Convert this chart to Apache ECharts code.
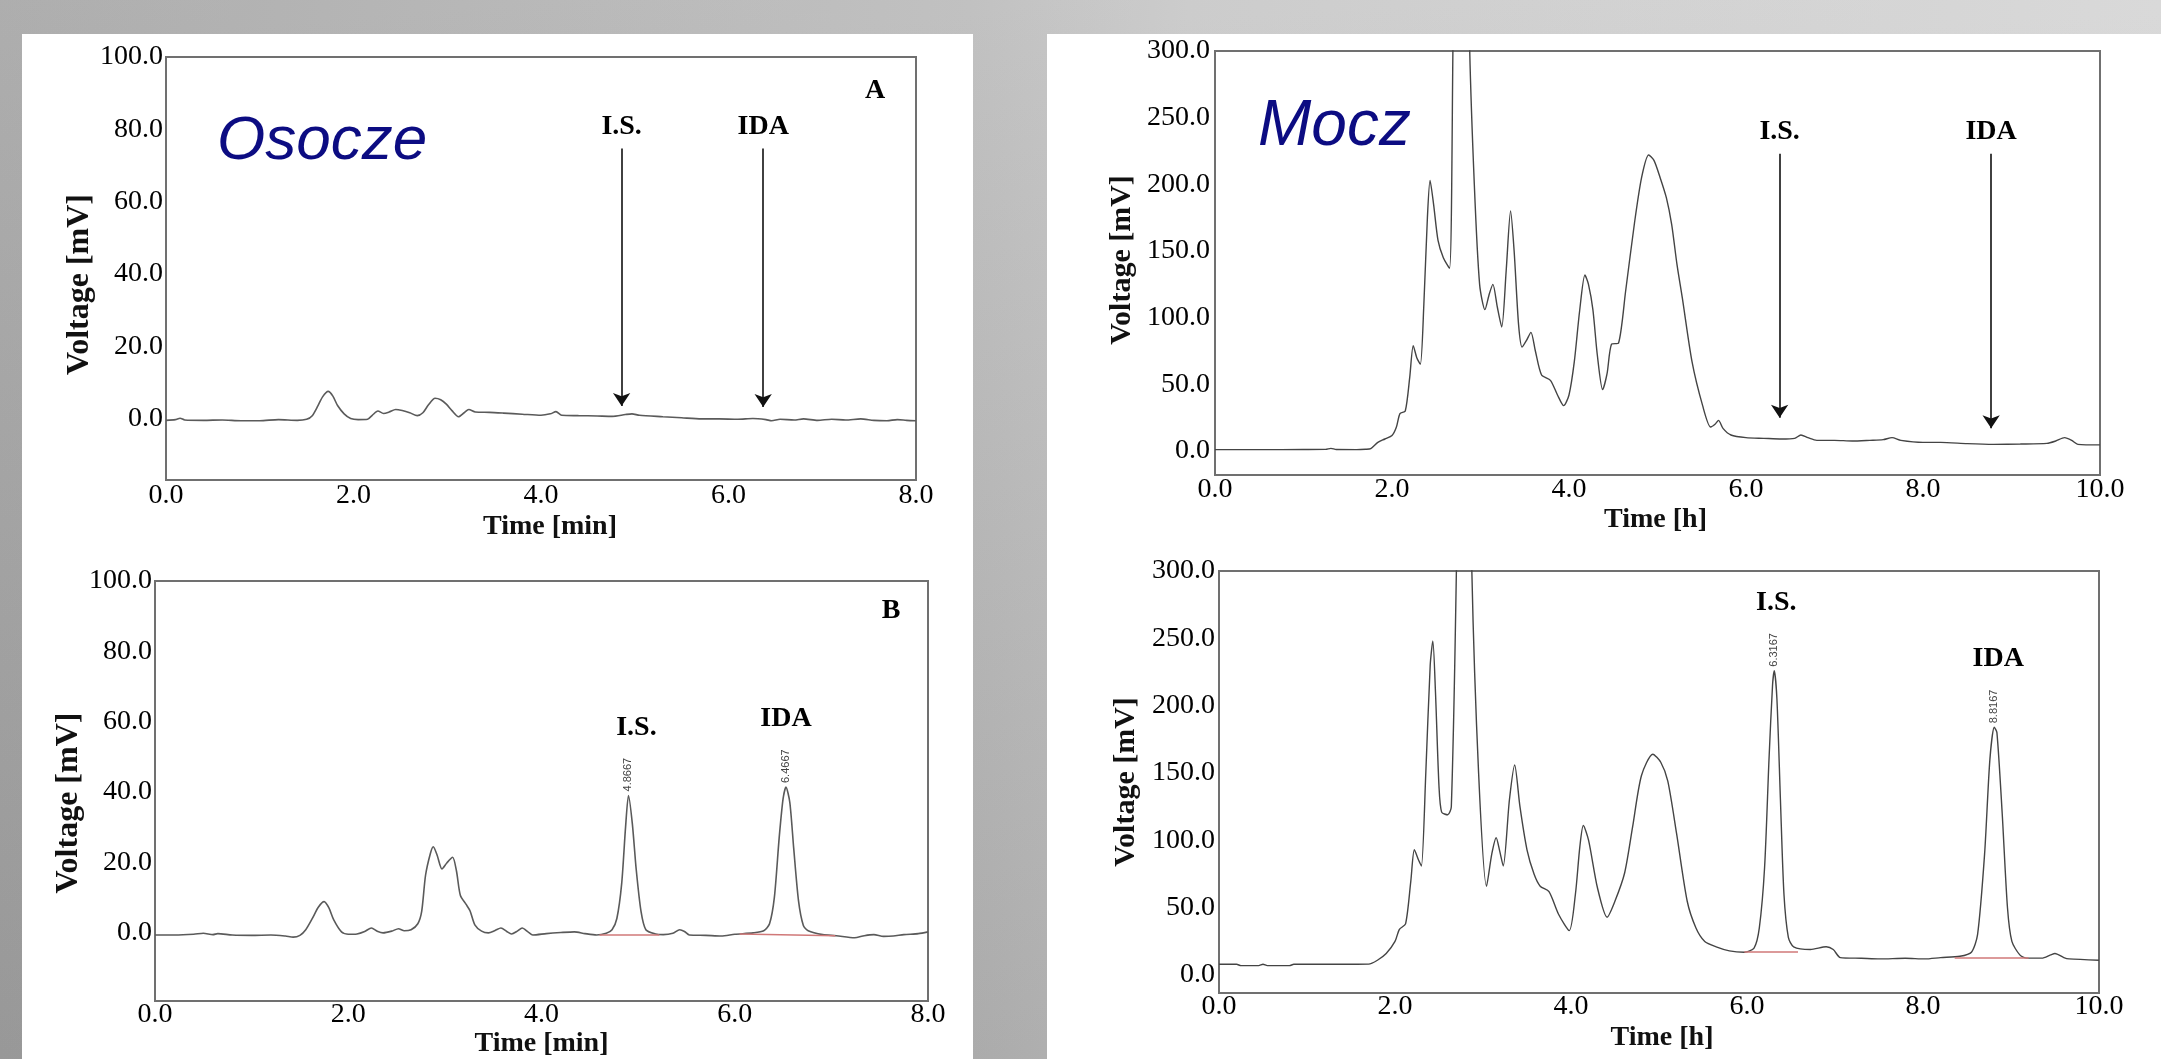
<!DOCTYPE html>
<html>
<head>
<meta charset="utf-8">
<title>Osocze / Mocz</title>
<script src="https://cdn.jsdelivr.net/npm/echarts@6/dist/echarts.min.js"></script>
<style>
  html, body { margin: 0; padding: 0; width: 2161px; height: 1059px; overflow: hidden;
    background: linear-gradient(to bottom, rgba(255,255,255,0.08), rgba(0,0,0,0.09)),
                linear-gradient(to right, #a7a7a7 0%, #bcbcbc 45%, #c8c8c8 55%, #d6d6d6 100%); }
  .panel { position: absolute; background: #fff; }
  #chart { position: absolute; left: 0; top: 0; width: 2161px; height: 1059px; }
</style>
</head>
<body>
<div class="panel" style="left:22px;top:34px;width:951px;height:1025px"></div>
<div class="panel" style="left:1047px;top:34px;width:1114px;height:1025px"></div>
<div id="chart"></div>
<script>
    var serif = '"Liberation Serif", "Times New Roman", serif';
    var sans = '"Liberation Sans", Arial, sans-serif';

    // chromatograms, [time, mV]
    var plasmaBlank = [[0,-0.5],[0.1,-0.3],[0.15,0.1],[0.2,-0.4],[0.4,-0.5],[0.6,-0.4],[0.8,-0.6],[1.0,-0.6],[1.2,-0.3],[1.4,-0.5],[1.5,-0.2],
        [1.56,0.8],[1.62,3.5],[1.67,6],[1.73,7.5],[1.78,6.2],[1.83,3.6],[1.9,1.3],[1.97,0],[2.05,-0.3],[2.15,-0.2],[2.2,0.9],[2.26,2.1],
        [2.32,1.4],[2.38,1.8],[2.45,2.5],[2.52,2.2],[2.6,1.6],[2.68,0.8],[2.74,1.6],[2.8,3.8],[2.87,5.6],[2.93,5.2],[2.99,4.0],[3.05,2.2],
        [3.12,0.5],[3.18,1.6],[3.23,2.5],[3.3,1.8],[3.45,1.7],[3.6,1.5],[3.8,1.2],[4.0,0.9],[4.1,1.3],[4.16,1.9],[4.22,0.9],[4.4,0.8],
        [4.6,0.7],[4.76,0.6],[4.9,1.1],[4.97,1.3],[5.05,0.9],[5.3,0.5],[5.5,0.2],[5.71,-0.1],[5.9,-0.1],[6.1,-0.2],[6.26,0],[6.4,-0.3],
        [6.46,-0.6],[6.55,-0.2],[6.7,-0.4],[6.8,-0.1],[6.95,-0.5],[7.1,-0.2],[7.25,-0.4],[7.41,-0.1],[7.55,-0.5],[7.69,-0.6],[7.8,-0.3],
        [7.9,-0.5],[8.0,-0.6]];

    var plasmaSpiked = [[0,-0.7],[0.2,-0.7],[0.4,-0.5],[0.5,-0.2],[0.6,-0.6],[0.65,-0.3],[0.8,-0.7],[1.0,-0.8],[1.2,-0.7],[1.35,-1.0],
        [1.43,-1.3],[1.5,-0.8],[1.56,0.8],[1.63,4.1],[1.69,7.2],[1.75,8.8],[1.8,7.0],[1.85,3.6],[1.93,0.2],[2.0,-0.5],[2.09,-0.4],
        [2.17,0.3],[2.24,1.3],[2.3,0.4],[2.36,-0.1],[2.45,0.4],[2.52,1.1],[2.58,0.5],[2.65,0.8],[2.72,2.5],[2.76,6],[2.8,16.3],
        [2.85,22.5],[2.88,24.4],[2.92,22],[2.97,18.1],[3.02,19.8],[3.08,21.4],[3.12,17.5],[3.16,10.6],[3.22,8.0],[3.26,6.2],[3.31,2.2],
        [3.38,0.4],[3.45,-0.1],[3.52,0.6],[3.58,1.3],[3.64,0.3],[3.69,-0.4],[3.75,0.4],[3.8,1.3],[3.86,0.2],[3.91,-0.7],[4.05,-0.3],
        [4.2,0.0],[4.34,0.2],[4.45,-0.3],[4.57,-0.7],[4.67,-0.2],[4.73,0.8],[4.78,4],[4.83,14],[4.87,30],[4.90,39],[4.94,31],[4.98,18],
        [5.03,6],[5.08,0.8],[5.18,-0.4],[5.26,-0.6],[5.36,-0.2],[5.43,0.8],[5.48,0.3],[5.53,-0.7],[5.7,-0.8],[5.86,-1.0],[6.0,-0.5],
        [6.19,-0.1],[6.3,0.5],[6.36,2.5],[6.41,10],[6.46,27],[6.5,38],[6.53,41.4],[6.57,37],[6.61,24],[6.66,9],[6.71,2],[6.76,0.5],
        [6.91,-0.6],[7.05,-0.9],[7.24,-1.5],[7.34,-0.9],[7.44,-0.6],[7.54,-1.1],[7.64,-1.0],[7.75,-0.6],[7.9,-0.3],[8.0,0.2]];

    var urineBlank = [[0,1],[0.5,1],[1.0,1.1],[1.25,1.2],[1.31,2],[1.37,1.1],[1.6,1],[1.7,1.3],[1.76,1.8],[1.84,6.5],[1.92,9],[2.0,11.6],
        [2.05,18],[2.09,28],[2.15,30],[2.2,55],[2.24,79],[2.28,70],[2.32,65],[2.36,110],[2.4,175],[2.43,203],[2.47,185],[2.52,158],
        [2.58,145],[2.65,137],[2.69,310],[2.78,700],[2.875,310],[2.93,200],[2.99,125],[3.05,106],[3.1,118],[3.14,125],[3.19,108],
        [3.24,93],[3.29,135],[3.34,180],[3.38,150],[3.43,95],[3.47,78],[3.52,83],[3.57,89],[3.62,75],[3.69,57],[3.79,53],[3.87,42],
        [3.94,34],[4.0,42],[4.06,67],[4.12,105],[4.18,132],[4.22,125],[4.27,106],[4.32,72],[4.38,46],[4.43,58],[4.48,80],[4.56,81],
        [4.64,120],[4.74,171],[4.82,205],[4.9,222],[4.96,218],[5.03,205],[5.1,190],[5.16,170],[5.22,140],[5.28,115],[5.39,67],[5.51,34],
        [5.6,18],[5.65,20],[5.69,23],[5.74,17],[5.83,12],[6.0,10],[6.2,9.5],[6.4,9],[6.55,9.5],[6.62,12],[6.7,10],[6.8,8],[7.0,8],
        [7.2,7.5],[7.4,8],[7.55,8.5],[7.65,10],[7.75,8],[8.0,6.5],[8.2,6.5],[8.5,5.5],[8.8,5],[9.1,5.2],[9.4,5.7],[9.5,7.5],[9.6,10],
        [9.68,8],[9.75,5],[10.0,4.6]];

    var urineSpiked = [[0,8],[0.2,8],[0.25,7],[0.45,7],[0.5,8],[0.55,7],[0.8,7],[0.85,8],[1.2,8],[1.5,8],[1.7,8.1],[1.8,11],[1.9,16],
        [2.0,25],[2.05,34],[2.12,38],[2.18,70],[2.22,93],[2.27,85],[2.3,81],[2.35,150],[2.4,230],[2.43,248],[2.46,210],[2.5,140],
        [2.53,121],[2.6,119],[2.64,125],[2.7,310],[2.78,700],[2.87,310],[2.95,150],[3.04,66],[3.1,90],[3.15,102],[3.19,92],[3.23,81],
        [3.3,130],[3.36,156],[3.42,125],[3.5,93],[3.58,75],[3.65,66],[3.75,62],[3.86,45],[3.98,33],[4.05,60],[4.1,95],[4.14,111],
        [4.2,100],[4.3,65],[4.41,43],[4.5,55],[4.61,76],[4.7,110],[4.8,148],[4.93,164],[5.02,158],[5.1,144],[5.2,105],[5.32,55],
        [5.42,35],[5.52,25],[5.65,21],[5.8,18],[5.97,17],[6.08,20],[6.14,35],[6.2,80],[6.25,160],[6.29,215],[6.31,226],[6.34,205],
        [6.38,130],[6.42,60],[6.47,28],[6.53,21],[6.72,19],[6.9,21],[6.98,19],[7.06,13],[7.3,12.5],[7.51,12],[7.8,12.5],[8.02,12],
        [8.2,13],[8.42,14],[8.55,17],[8.62,30],[8.7,90],[8.76,160],[8.81,184],[8.84,180],[8.9,120],[8.96,50],[9.01,25],[9.1,15],
        [9.18,12.6],[9.35,12.6],[9.45,15],[9.5,16],[9.6,13],[9.66,12],[10.0,11]];

    var yTicksPlasma = [0, 20, 40, 60, 80, 100];
    var yTicksUrine = [0, 50, 100, 150, 200, 250, 300];

    // arrows on blanks: [time, top, tip]
    var arrowNames = ['I.S.', 'IDA'];
    var arrowsPlasma = [[4.86, 74.7, 3.5], [6.37, 74.7, 3.2]];
    var arrowsUrine = [[6.38, 223, 25], [8.77, 223, 17]];

    // marked peaks on spiked runs: [time, mV]
    var peakNames = ['I.S.', 'IDA'];
    var peaksPlasma = [[4.90, 39], [6.53, 41.4]];
    var peaksUrine = [[6.31, 226], [8.81, 184]];
    var rtPlasma = ['4.8667', '6.4667'];
    var rtUrine = ['6.3167', '8.8167'];

    // integration baselines
    var basePlasma = [[[4.60, -0.5], [5.22, -0.5]], [[6.05, -0.4], [7.04, -0.9]]];
    var baseUrine = [[[5.97, 17.5], [6.58, 17.5]], [[8.36, 12.5], [9.20, 12.5]]];

    var grids = [
        {left: 166, top: 57, width: 750, height: 423},
        {left: 155, top: 581, width: 773, height: 434},
        {left: 1215, top: 51, width: 885, height: 424},
        {left: 1219, top: 571, width: 880, height: 422}
    ];

    function xAxis(i, max, unit, gap, shift, margin) {
        return {
            type: 'value', gridIndex: i, min: 0, max: max, interval: 2,
            axisLine: {show: false}, axisTick: {show: false}, splitLine: {show: false},
            axisLabel: {formatter: function (v) { return v.toFixed(1); }, fontFamily: serif, fontSize: 28, color: '#000', margin: margin},
            name: 'Time [' + unit + ']', nameLocation: 'middle', nameGap: gap,
            nameTextStyle: {fontFamily: serif, fontWeight: 'bold', fontSize: 28, color: '#111',
                padding: shift > 0 ? [0, 0, 0, 2 * shift] : [0, -2 * shift, 0, 0]}
        };
    }

    function yAxis(i, min, max, ticks, gap, shift, size, margin) {
        return {
            type: 'value', gridIndex: i, min: min, max: max,
            axisLine: {show: false}, axisTick: {show: false}, splitLine: {show: false},
            axisLabel: {customValues: ticks, formatter: function (v) { return v.toFixed(1); },
                fontFamily: serif, fontSize: 28, color: '#000', margin: margin},
            name: 'Voltage [mV]', nameLocation: 'middle', nameGap: gap,
            nameTextStyle: {fontFamily: serif, fontWeight: 'bold', fontSize: size, color: '#111',
                padding: shift > 0 ? [0, 2 * shift, 0, 0] : [0, 0, 0, -2 * shift]}
        };
    }

    function arrowLines(arrows) {
        return {
            silent: true, animation: false, symbol: ['none', 'arrow'], symbolSize: 13,
            lineStyle: {color: '#111', width: 1.6, type: 'solid'},
            label: {show: true, position: 'start', distance: 8, formatter: function (p) { return p.name; },
                color: '#000', fontFamily: serif, fontWeight: 'bold', fontSize: 28},
            data: arrows.map(function (a, k) {
                return [{name: arrowNames[k], coord: [a[0], a[1]]}, {coord: [a[0], a[2]]}];
            })
        };
    }

    function baseLines(lines) {
        return {
            silent: true, animation: false, symbol: ['none', 'none'],
            lineStyle: {color: '#d07878', width: 1.6, type: 'solid'},
            label: {show: false},
            data: lines.map(function (l) { return [{coord: l[0]}, {coord: l[1]}]; })
        };
    }

    function peakMarks(peaks, rts, nameShift) {
        var data = [];
        peaks.forEach(function (p, k) {
            data.push({name: peakNames[k], coord: p,
                label: {position: 'top', distance: 54, offset: [nameShift[k], 0],
                    fontFamily: serif, fontWeight: 'bold', fontSize: 28, color: '#000'}});
            data.push({name: rts[k], coord: p,
                label: {position: 'top', distance: 4, rotate: 90, align: 'left', verticalAlign: 'middle',
                    fontFamily: sans, fontSize: 11, color: '#444'}});
        });
        return {silent: true, animation: false, symbol: 'circle', symbolSize: 0,
            label: {show: true, formatter: function (p) { return p.name; }}, data: data};
    }

    function trace(i, data, color, width, extra) {
        var s = {
            type: 'line', xAxisIndex: i, yAxisIndex: i, data: data, showSymbol: false, symbol: 'none',
            smooth: 0.25, silent: true, lineStyle: {color: color, width: width}
        };
        for (var k in extra) s[k] = extra[k];
        return s;
    }

    var option = {
        animation: false,
        grid: grids.map(function (g) {
            return {left: g.left, top: g.top, width: g.width, height: g.height, show: true,
                borderColor: '#707070', borderWidth: 2, backgroundColor: 'transparent'};
        }),
        xAxis: [
            xAxis(0, 8, 'min', 33, 9, 2),
            xAxis(1, 8, 'min', 20, 0, 0),
            xAxis(2, 10, 'h', 31, -2, 1),
            xAxis(3, 10, 'h', 31, 3, 0)
        ],
        yAxis: [
            yAxis(0, -17, 100, yTicksPlasma, 59, 16, 32, 3),
            yAxis(1, -19.5, 100, yTicksPlasma, 56, 12, 32, 3),
            yAxis(2, -18, 300, yTicksUrine, 78, -3, 30, 5),
            yAxis(3, -13.3, 300, yTicksUrine, 78, 0, 30, 4)
        ],
        series: [
            trace(0, plasmaBlank, '#5a5a5a', 1.6, {markLine: arrowLines(arrowsPlasma)}),
            trace(1, plasmaSpiked, '#5a5a5a', 1.6, {markLine: baseLines(basePlasma), markPoint: peakMarks(peaksPlasma, rtPlasma, [8, 0])}),
            trace(2, urineBlank, '#444', 1.4, {markLine: arrowLines(arrowsUrine)}),
            trace(3, urineSpiked, '#444', 1.4, {markLine: baseLines(baseUrine), markPoint: peakMarks(peaksUrine, rtUrine, [2, 4])})
        ],
        graphic: [
            {type: 'text', x: 217, y: 142, silent: true, style: {text: 'Osocze', font: 'italic 62px ' + sans, fill: '#0c0c82',
                align: 'left', verticalAlign: 'middle', textAlign: 'left', textVerticalAlign: 'middle',
                shadowColor: 'rgba(0,0,0,0.55)', shadowBlur: 5, shadowOffsetX: 3, shadowOffsetY: 4}},
            {type: 'text', x: 1258, y: 127, silent: true, style: {text: 'Mocz', font: 'italic 64px ' + sans, fill: '#0c0c82',
                align: 'left', verticalAlign: 'middle', textAlign: 'left', textVerticalAlign: 'middle',
                shadowColor: 'rgba(0,0,0,0.55)', shadowBlur: 5, shadowOffsetX: 3, shadowOffsetY: 4}},
            {type: 'text', x: 875, y: 91, silent: true, style: {text: 'A', font: 'bold 28px ' + serif, fill: '#000',
                align: 'center', verticalAlign: 'middle', textAlign: 'center', textVerticalAlign: 'middle'}},
            {type: 'text', x: 891, y: 611, silent: true, style: {text: 'B', font: 'bold 28px ' + serif, fill: '#000',
                align: 'center', verticalAlign: 'middle', textAlign: 'center', textVerticalAlign: 'middle'}}
        ]
    };

    var myChart = echarts.init(document.getElementById('chart'));
    myChart.setOption(option);
</script>
</body>
</html>
